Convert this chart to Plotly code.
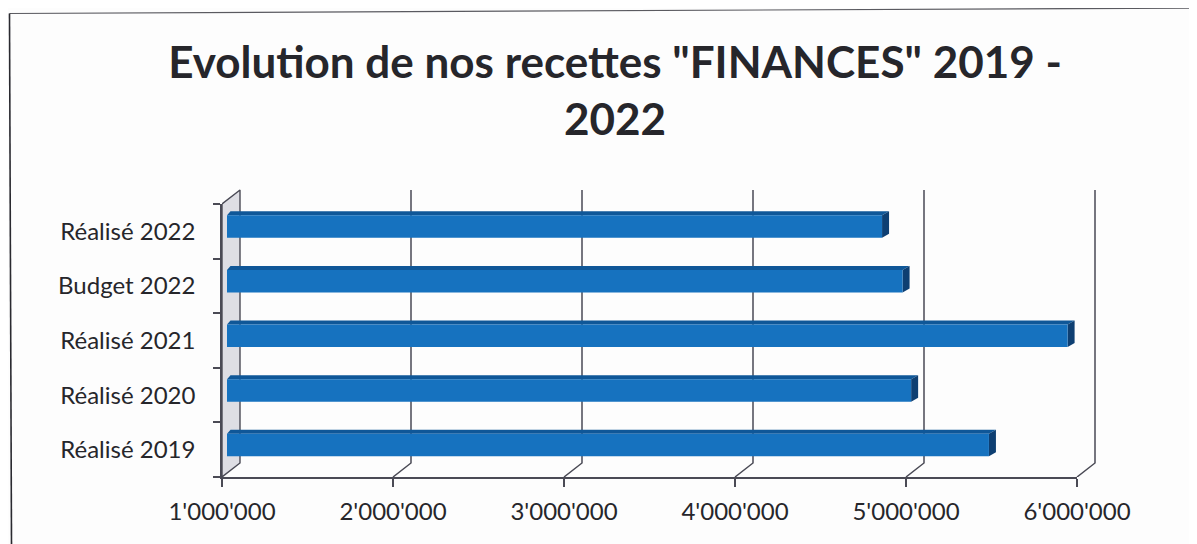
import plotly.graph_objects as go

categories = ["Réalisé 2019", "Réalisé 2020", "Réalisé 2021", "Budget 2022", "Réalisé 2022"]
values = [5485000, 5030000, 5945000, 4980000, 4860000]
x_ticks = [1000000, 2000000, 3000000, 4000000, 5000000, 6000000]
x_labels = ["1'000'000", "2'000'000", "3'000'000", "4'000'000", "5'000'000", "6'000'000"]
title = 'Evolution de nos recettes "FINANCES" 2019 -<br>2022'

# The page sits 8 px inside the window (body margin), so work in page px and subtract it.
PAGE = 8
W, H = 1197 - PAGE, 544 - PAGE
AX_LEFT, AX_RIGHT = 222 - PAGE, 1077 - PAGE     # front x-axis extent
AX_TOP, AX_BOTTOM = 204 - PAGE, 477 - PAGE      # front y-axis extent
WALL_PX_X, WALL_PX_Y = 18, 14
FULL_RIGHT, FULL_TOP = AX_RIGHT + WALL_PX_X + 2, AX_TOP - WALL_PX_Y - 2

full_w, full_h = FULL_RIGHT - AX_LEFT, AX_BOTTOM - FULL_TOP
front_w, front_h = AX_RIGHT - AX_LEFT, AX_BOTTOM - AX_TOP
px_x = (x_ticks[-1] - x_ticks[0]) / front_w
px_y = len(categories) / front_h

BAR_H = 22.5 * px_y
BAR_BASE = x_ticks[0] + 5 * px_x
BAR_SHIFT = 4.7 * px_y
DEPTH_X, DEPTH_Y = 7 * px_x, 4 * px_y
WALL_X, WALL_Y = WALL_PX_X * px_x, WALL_PX_Y * px_y
LINE = "#4a4a55"
BLUE = "#1672bf"
BLUE_TOP = "#0f5798"
BLUE_SIDE = "#0e3f72"
INK = "#26262b"

y0, y1 = -0.5, len(categories) - 0.5
x0 = x_ticks[0]

fig = go.Figure()

# left wall of the 3D box
fig.add_trace(go.Scatter(
    x=[x0, x0 + WALL_X, x0 + WALL_X, x0, x0],
    y=[y0, y0 + WALL_Y, y1 + WALL_Y, y1, y0],
    mode="lines", fill="toself", fillcolor="#dedee4",
    line=dict(color=LINE, width=1.4), hoverinfo="skip"))

# back-wall gridlines with their floor connectors
for t in x_ticks[1:]:
    fig.add_trace(go.Scatter(
        x=[t, t + WALL_X, t + WALL_X],
        y=[y0, y0 + WALL_Y, y1 + WALL_Y],
        mode="lines", line=dict(color=LINE, width=1.5), hoverinfo="skip"))

# top and side faces of each bar
for i, v in enumerate(values):
    c = i + BAR_SHIFT
    lo, hi = c - BAR_H / 2, c + BAR_H / 2
    fig.add_trace(go.Scatter(
        x=[BAR_BASE, BAR_BASE + DEPTH_X / 2, v + DEPTH_X, v, BAR_BASE],
        y=[hi, hi + DEPTH_Y, hi + DEPTH_Y, hi, hi],
        mode="lines", fill="toself", fillcolor=BLUE_TOP, line=dict(width=0),
        hoverinfo="skip"))
    fig.add_trace(go.Scatter(
        x=[v, v + DEPTH_X, v + DEPTH_X, v, v],
        y=[lo, lo + DEPTH_Y, hi + DEPTH_Y, hi, lo],
        mode="lines", fill="toself", fillcolor=BLUE_SIDE, line=dict(width=0),
        hoverinfo="skip"))

# front faces of the bars, on the visible axes
fig.add_trace(go.Bar(
    y=categories, x=[v - BAR_BASE for v in values], base=BAR_BASE,
    orientation="h", width=BAR_H, offset=-BAR_H / 2 + BAR_SHIFT,
    marker=dict(color=BLUE, line=dict(width=0)),
    xaxis="x2", yaxis="y2", hoverinfo="skip"))

fig.update_layout(
    width=W, height=H,
    margin=dict(l=AX_LEFT, r=W - FULL_RIGHT, t=FULL_TOP, b=H - AX_BOTTOM, autoexpand=False),
    paper_bgcolor="#fdfdfd", plot_bgcolor="rgba(0,0,0,0)", showlegend=False,
    font=dict(family="Lato", color=INK),
    title=dict(text=title, x=(615 - PAGE) / W, xanchor="center",
               y=1 - 70 / H, yanchor="top",
               font=dict(family="Lato", size=44, color=INK, weight="bold")),
    # hidden axes spanning the whole 3D box, same scale as the front axes
    xaxis=dict(domain=[0, 1], range=[x0, x0 + full_w * px_x], visible=False),
    yaxis=dict(domain=[0, 1], range=[y0, y0 + full_h * px_y], visible=False),
    # visible front axes
    xaxis2=dict(domain=[0, front_w / full_w], anchor="y2",
                range=[x_ticks[0], x_ticks[-1]], tickvals=x_ticks, ticktext=x_labels,
                ticks="outside", ticklen=8, tickwidth=1.5, tickcolor=LINE,
                showline=True, linecolor=LINE, linewidth=1.5, showgrid=False,
                zeroline=False, tickfont=dict(size=24), ticklabelstandoff=4),
    yaxis2=dict(domain=[0, front_h / full_h], anchor="x2", type="category",
                categoryorder="array", categoryarray=categories, range=[y0, y1],
                tickson="boundaries", ticks="outside", ticklen=7, tickwidth=1.5,
                tickcolor=LINE, showline=True, linecolor=LINE, linewidth=1.5,
                showgrid=False, zeroline=False, tickfont=dict(size=24),
                ticklabelstandoff=20),
)


# scanned page frame (slightly skewed), as figure-fraction lines
def fx(px):
    return (px - PAGE - AX_LEFT) / full_w


def fy(py):
    return (AX_BOTTOM - (py - PAGE)) / full_h


FRAME = "#2a2a30"
fig.add_shape(type="line", xref="paper", yref="paper", x0=fx(9.5), y0=fy(13.5), x1=fx(1197), y1=fy(8),
              line=dict(color="#5a5a60", width=1.2))
fig.add_shape(type="line", xref="paper", yref="paper", x0=fx(9.5), y0=fy(13.5), x1=fx(11.5), y1=fy(544),
              line=dict(color=FRAME, width=1.6))

fig.write_html("out.html")
